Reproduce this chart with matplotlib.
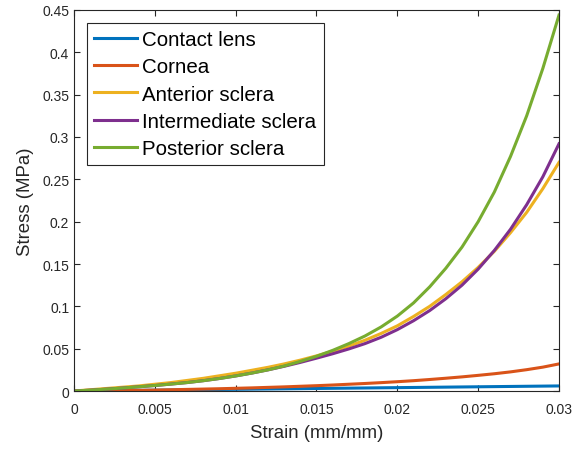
import matplotlib.pyplot as plt

plt.rcParams['font.family'] = ['Liberation Sans', 'DejaVu Sans']

strain = [i / 1000 for i in range(31)]

contact_lens = [0, 0.0002, 0.0004, 0.0006, 0.0008, 0.001, 0.0012, 0.0014,
                0.0016, 0.0018, 0.002, 0.0022, 0.0024, 0.0026, 0.0028, 0.003,
                0.0032, 0.0034, 0.0036, 0.0038, 0.004, 0.0042, 0.0044, 0.0046,
                0.0048, 0.005, 0.0052, 0.0054, 0.0056, 0.0058, 0.006]
cornea = [0, 0.0001, 0.0003, 0.0005, 0.0008, 0.0011, 0.0015, 0.0019,
          0.0023, 0.0027, 0.0032, 0.0037, 0.0043, 0.0049, 0.0056, 0.0063,
          0.0071, 0.008, 0.0089, 0.0099, 0.011, 0.0122, 0.0136, 0.0151,
          0.0167, 0.0185, 0.0204, 0.0226, 0.0252, 0.0282, 0.032]
anterior = [0, 0.0015, 0.003, 0.0045, 0.006, 0.008, 0.010, 0.0125,
            0.015, 0.018, 0.021, 0.0245, 0.028, 0.032, 0.0365, 0.0415,
            0.047, 0.053, 0.060, 0.068, 0.077, 0.088, 0.100, 0.114,
            0.129, 0.146, 0.165, 0.187, 0.211, 0.239, 0.270]
intermediate = [0, 0.001, 0.0022, 0.0035, 0.005, 0.0065, 0.0082, 0.010,
                0.0122, 0.0148, 0.0178, 0.0212, 0.025, 0.0292, 0.0338, 0.0388,
                0.044, 0.0497, 0.056, 0.0635, 0.0725, 0.083, 0.095, 0.109,
                0.125, 0.144, 0.166, 0.191, 0.220, 0.253, 0.292]
posterior = [0, 0.001, 0.0022, 0.0035, 0.005, 0.0065, 0.0082, 0.010,
             0.0122, 0.0148, 0.0178, 0.0212, 0.025, 0.0295, 0.035, 0.041,
             0.048, 0.056, 0.065, 0.0757, 0.0885, 0.104, 0.123, 0.145,
             0.170, 0.200, 0.235, 0.277, 0.325, 0.381, 0.444]

series = [
    ('Contact lens', contact_lens, '#0072BD'),
    ('Cornea', cornea, '#D95319'),
    ('Anterior sclera', anterior, '#EDB120'),
    ('Intermediate sclera', intermediate, '#7E2F8E'),
    ('Posterior sclera', posterior, '#77AC30'),
]

fig = plt.figure(figsize=(5.84, 4.52), dpi=100)
ax = fig.add_axes([0.1267, 0.1327, 0.8305, 0.843])

for name, vals, color in series:
    ax.plot(strain, vals, color=color, linewidth=2.2, label=name)

ax.set_xlim(0, 0.03)
ax.set_ylim(0, 0.45)
ax.set_xticks([0, 0.005, 0.01, 0.015, 0.02, 0.025, 0.03])
ax.set_xticklabels(['0', '0.005', '0.01', '0.015', '0.02', '0.025', '0.03'])
ax.set_yticks([0, 0.05, 0.1, 0.15, 0.2, 0.25, 0.3, 0.35, 0.4, 0.45])
ax.set_yticklabels(['0', '0.05', '0.1', '0.15', '0.2', '0.25', '0.3', '0.35', '0.4', '0.45'])
ax.tick_params(direction='in', top=True, right=True, labelsize=10,
               colors='#262626', length=4, width=0.8)
ax.tick_params(axis='x', pad=8)
for s in ax.spines.values():
    s.set_color('#262626')
    s.set_linewidth(0.8)

ax.set_xlabel('Strain (mm/mm)', fontsize=13.4, color='#262626', labelpad=6)
ax.set_ylabel('Stress (MPa)', fontsize=13.4, color='#262626', labelpad=6)

leg = ax.legend(loc='upper left', bbox_to_anchor=(0.0268, 0.966), borderaxespad=0,
                fontsize=14.8, fancybox=False, edgecolor='#262626',
                handlelength=2.1, handletextpad=0.25, borderpad=0.35,
                labelspacing=0.4, framealpha=1)
leg.get_frame().set_linewidth(0.8)

fig.savefig('out.png', dpi=100)
